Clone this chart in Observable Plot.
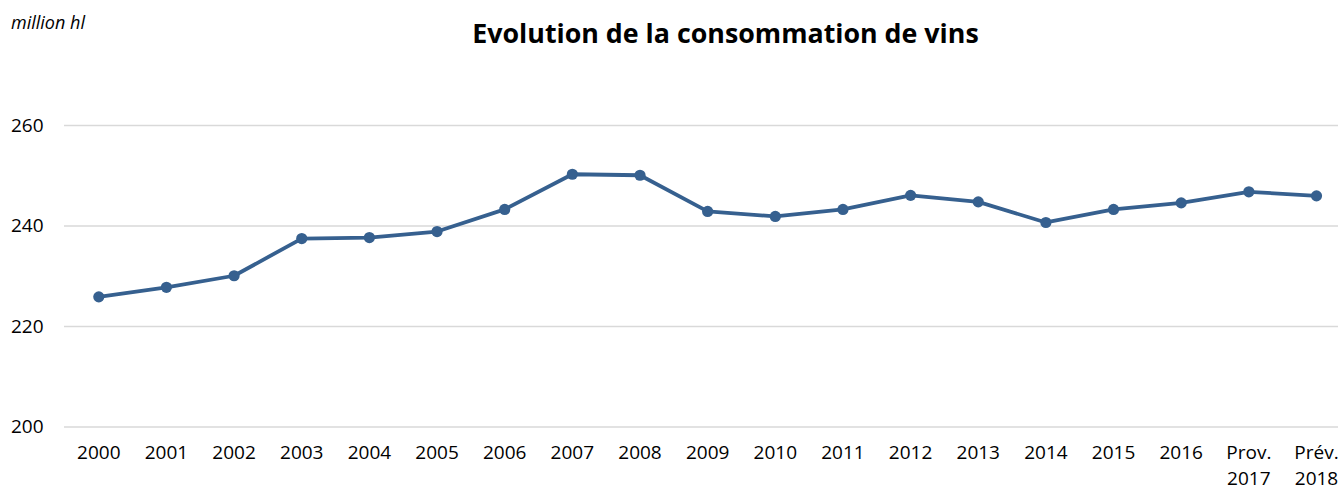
<!DOCTYPE html>
<html>
<head>
<meta charset="utf-8">
<script src="https://cdn.jsdelivr.net/npm/d3@7"></script>
<script src="https://cdn.jsdelivr.net/npm/@observablehq/plot@0.6"></script>
<style>
  html, body { margin: 0; padding: 0; background: #fff; }
  #wrap { position: relative; width: 1338px; height: 491px; overflow: hidden; font-family: "Open Sans", sans-serif; }
  #unit { position: absolute; left: 11px; top: 10px; font-size: 18px; font-style: italic; color: #000; }
  #title { position: absolute; left: 0; width: 1451px; top: 14px; text-align: center; font-size: 26.8px; font-weight: bold; color: #000; }
  #chart { position: absolute; left: 0; top: 0; }
</style>
</head>
<body>
<div id="wrap">
  <div id="chart"></div>
  <div id="unit">million hl</div>
  <div id="title">Evolution de la consommation de vins</div>
</div>
<script>
const categories = ["2000","2001","2002","2003","2004","2005","2006","2007","2008","2009","2010","2011","2012","2013","2014","2015","2016","Prov.\n2017","Prév.\n2018"];
const consumption = [225.9, 227.8, 230.1, 237.5, 237.7, 238.9, 243.3, 250.3, 250.1, 242.9, 241.9, 243.3, 246.1, 244.8, 240.7, 243.3, 244.6, 246.8, 246.0];
const yTicks = [200, 220, 240, 260];

const data = categories.map((c, i) => ({cat: c, value: consumption[i]}));
const lineColor = "#36608f";

const chart = Plot.plot({
  width: 1338,
  height: 491,
  marginLeft: 64,
  marginRight: 0,
  marginTop: 125,
  marginBottom: 64.5,
  style: {fontFamily: "Open Sans, sans-serif", fontSize: "19px", color: "#000", background: "transparent"},
  x: {type: "point", domain: categories, range: [98.3, 1316], padding: 0, round: false},
  y: {domain: [200, 260], ticks: yTicks},
  marks: [
    Plot.gridY(yTicks, {stroke: "#d9d9d9", strokeOpacity: 1, strokeWidth: 1.5}),
    Plot.axisY(yTicks, {tickSize: 0, tickPadding: 21, label: null, fontSize: 19, fill: "#000"}),
    Plot.axisX({tickSize: 0, tickPadding: 14, label: null, fontSize: 19, fill: "#000", lineHeight: 1.36}),
    Plot.line(data, {x: "cat", y: "value", stroke: lineColor, strokeWidth: 3.8}),
    Plot.dot(data, {x: "cat", y: "value", r: 5.6, fill: lineColor, stroke: "none"})
  ]
});
document.getElementById("chart").appendChild(chart);
</script>
</body>
</html>
